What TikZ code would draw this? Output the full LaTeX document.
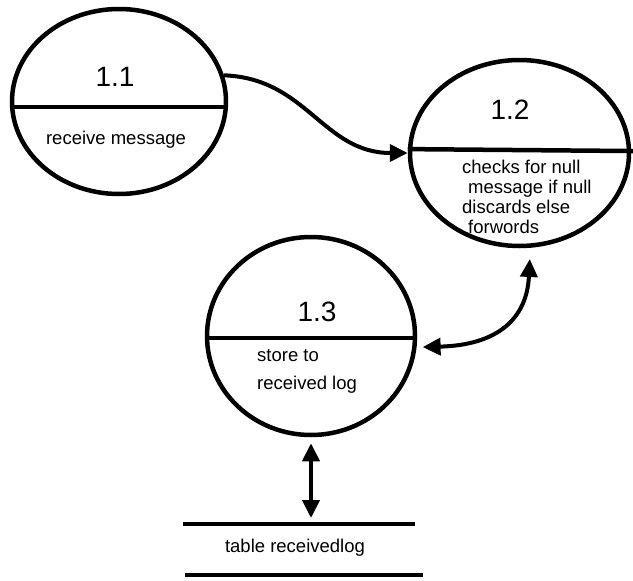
\documentclass[tikz,border=0pt]{standalone}
\usepackage{fontspec}
\setmainfont{Liberation Sans}
\usetikzlibrary{shapes.geometric,arrows.meta,calc}
\begin{document}
\begin{tikzpicture}[x=1pt,y=-1pt,
  proc/.style={draw,ellipse,line width=4.5pt,inner sep=0pt},
  divider/.style={line width=4.5pt},
  flow/.style={line width=4pt,-{Triangle[length=18pt,width=17pt]}},
  biflow/.style={line width=4pt,{Triangle[length=18pt,width=17pt]}-{Triangle[length=18pt,width=17pt]}},
  num/.style={font=\fontsize{28}{30}\selectfont,inner sep=0pt},
  lbl/.style={font=\fontsize{18.5}{20}\selectfont,inner sep=0pt,align=left}]
\useasboundingbox (0,0) rectangle (633,581);
% processes
\node[proc,minimum width=214,minimum height=185] (p1) at (119,101.5) {};
\node[proc,minimum width=219,minimum height=186] (p2) at (519.5,153) {};
\node[proc,minimum width=208,minimum height=198] (p3) at (311,336) {};
% dividers
\draw[divider] (p1.183) -- (p1.-3);
\draw[divider] (p2.178.4) -- ($(p2.1.6)+(4,0)$);
\draw[divider] (p3.181.1) -- (p3.-1.1);
% labels
\node[num] (n1) at (115,77) {1.1};
\node[lbl] (t1) at (116,140) {receive message};
\node[num] (n2) at (510,110) {1.2};
\node[lbl,anchor=north west] (t2) at (462,160) {checks for null\\\hspace*{6pt}message if null\\discards else\\\hspace*{6pt}forwords};
\node[num] (n3) at (317,312) {1.3};
\node[lbl,anchor=north west,font=\fontsize{18.5}{28}\selectfont] (t3) at (257,349) {store to\\received log};
% data store
\node[lbl] (st) at (295,548) {table receivedlog};
\coordinate (sa) at ($(st)+(-112,-24)$);
\coordinate (sb) at ($(st)+(120,-24)$);
\coordinate (sc) at ($(st)+(-110,27)$);
\coordinate (sd) at ($(st)+(128,27)$);
\draw[divider] (sa) -- (sb);
\draw[divider] (sc) -- (sd);
% flows
\draw[flow] (p1.14) .. controls +(83,3) and +(-85,0) .. (p2.180);
\draw[biflow] ($(p3.-6)+(6,0)$) .. controls +(75,-2) and +(-3,60) .. ($(p2.-85)+(2,11)$);
\draw[biflow] ($(p3.south)+(0,6)$) -- ($(p3.south |- sa)+(0,-6)$);
\end{tikzpicture}
\end{document}
